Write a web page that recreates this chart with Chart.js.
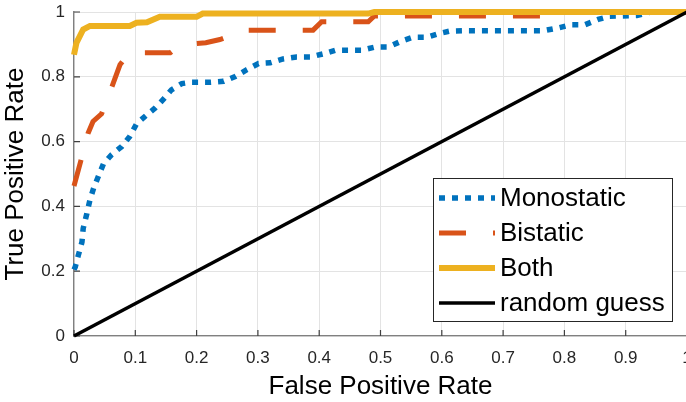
<!DOCTYPE html>
<html>
<head>
<meta charset="utf-8">
<script src="https://cdn.jsdelivr.net/npm/chart.js@4.4.1/dist/chart.umd.min.js"></script>
<style>
  html, body { margin: 0; padding: 0; background: #fff; overflow: hidden; }
  #wrap { position: absolute; left: 0; top: 0; width: 700px; height: 402px; }
</style>
</head>
<body>
<div id="wrap"><canvas id="roc" width="700" height="402"></canvas></div>
<script>
// ROC curves
const monoFpr = [0, 0.002, 0.007, 0.013, 0.015, 0.021, 0.026, 0.032, 0.040, 0.048, 0.061, 0.078, 0.091, 0.102, 0.119, 0.132, 0.146, 0.159, 0.176, 0.19, 0.222, 0.244, 0.263, 0.282, 0.301, 0.320, 0.341, 0.363, 0.385, 0.407, 0.426, 0.469, 0.491, 0.513, 0.534, 0.553, 0.575, 0.594, 0.613, 0.635, 0.765, 0.790, 0.812, 0.834, 0.855, 0.874, 0.918, 0.94, 1];
const monoTpr = [0.205, 0.213, 0.249, 0.29, 0.332, 0.378, 0.42, 0.456, 0.494, 0.531, 0.559, 0.585, 0.616, 0.655, 0.683, 0.703, 0.731, 0.76, 0.779, 0.783, 0.783, 0.786, 0.801, 0.822, 0.841, 0.843, 0.855, 0.861, 0.861, 0.871, 0.882, 0.882, 0.892, 0.892, 0.91, 0.922, 0.922, 0.933, 0.941, 0.942, 0.942, 0.951, 0.961, 0.961, 0.977, 0.987, 0.989, 1, 1];

const biFpr = [0, 0.011, 0.023, 0.031, 0.045, 0.061, 0.075, 0.09, 0.157, 0.165, 0.195, 0.215, 0.238, 0.279, 0.39, 0.404, 0.48, 0.49, 0.78, 0.79, 1];
const biTpr = [0.463, 0.54, 0.626, 0.662, 0.686, 0.765, 0.837, 0.874, 0.874, 0.886, 0.902, 0.905, 0.915, 0.944, 0.944, 0.97, 0.97, 0.988, 0.988, 1, 1];

const bothFpr = [0, 0.004, 0.015, 0.026, 0.091, 0.102, 0.119, 0.14, 0.2, 0.21, 0.48, 0.49, 1];
const bothTpr = [0.868, 0.905, 0.946, 0.957, 0.957, 0.967, 0.968, 0.985, 0.985, 0.995, 0.995, 1, 1];

const guessFpr = [0, 1];
const guessTpr = [0, 1];

const seriesNames = ["Monostatic", "Bistatic", "Both", "random guess"];
const xTicks = [0, 0.1, 0.2, 0.3, 0.4, 0.5, 0.6, 0.7, 0.8, 0.9, 1];
const yTicks = [0, 0.2, 0.4, 0.6, 0.8, 1];

const toPoints = (xs, ys) => xs.map((x, i) => ({ x: x, y: ys[i] }));

const fontFamily = "'Liberation Sans', Arial, Helvetica, sans-serif";
const axisGray = "#808080";

// MATLAB style ticks pointing into the plot
const innerTicks = {
  id: "innerTicks",
  beforeDatasetsDraw(chart) {
    const { ctx, chartArea, scales } = chart;
    ctx.save();
    ctx.strokeStyle = "#404040";
    ctx.lineWidth = 1.2;
    ctx.beginPath();
    xTicks.forEach((v) => {
      const px = scales.x.getPixelForValue(v);
      ctx.moveTo(px, chartArea.bottom);
      ctx.lineTo(px, chartArea.bottom - 6);
    });
    yTicks.forEach((v) => {
      const py = scales.y.getPixelForValue(v);
      ctx.moveTo(chartArea.left, py);
      ctx.lineTo(chartArea.left + 6, py);
    });
    ctx.stroke();
    ctx.restore();
  },
};

// legend box inside the plot, lower right
const boxLegend = {
  id: "boxLegend",
  afterDatasetsDraw(chart) {
    const { ctx } = chart;
    const left = 433, top = 178, width = 239, height = 143;
    ctx.save();
    ctx.fillStyle = "#fff";
    ctx.fillRect(left, top, width, height);
    ctx.strokeStyle = "#262626";
    ctx.lineWidth = 1;
    ctx.strokeRect(left + 0.5, top + 0.5, width, height);
    ctx.font = "26px " + fontFamily;
    ctx.textBaseline = "middle";
    ctx.fillStyle = "#000";
    chart.data.datasets.forEach((ds, i) => {
      const y = top + 20 + i * 35;
      ctx.save();
      ctx.strokeStyle = ds.borderColor;
      ctx.lineWidth = ds.borderWidth;
      ctx.lineCap = "butt";
      ctx.setLineDash(ds.borderDash || []);
      ctx.beginPath();
      ctx.moveTo(439, y);
      ctx.lineTo(495, y);
      ctx.stroke();
      ctx.restore();
      ctx.fillText(ds.label, 500, y + 1);
    });
    ctx.restore();
  },
};

new Chart(document.getElementById("roc"), {
  type: "line",
  data: {
    datasets: [
      {
        label: seriesNames[0],
        data: toPoints(monoFpr, monoTpr),
        borderColor: "#0072BD",
        borderWidth: 5.5,
        borderDash: [6, 7],
        order: 4,
      },
      {
        label: seriesNames[1],
        data: toPoints(biFpr, biTpr),
        borderColor: "#D95319",
        borderWidth: 5,
        borderDash: [27, 27],
        order: 3,
      },
      {
        label: seriesNames[2],
        data: toPoints(bothFpr, bothTpr),
        borderColor: "#EDB120",
        borderWidth: 6,
        order: 2,
      },
      {
        label: seriesNames[3],
        data: toPoints(guessFpr, guessTpr),
        borderColor: "#000000",
        borderWidth: 3.5,
        order: 1,
      },
    ],
  },
  options: {
    responsive: false,
    animation: false,
    clip: false,
    layout: { padding: { top: 12, right: 13, left: 0, bottom: 0 } },
    elements: {
      point: { radius: 0, hoverRadius: 0 },
      line: { tension: 0, fill: false, borderCapStyle: "butt", borderJoinStyle: "miter" },
    },
    plugins: {
      legend: { display: false },
      tooltip: { enabled: false },
    },
    scales: {
      x: {
        type: "linear",
        min: 0,
        max: 1,
        afterFit: (scale) => {
          scale.height = 66;
          scale.paddingLeft = 0;
          scale.paddingRight = 0;
        },
        afterBuildTicks: (scale) => { scale.ticks = xTicks.map((v) => ({ value: v })); },
        ticks: {
          padding: 12,
          color: "#262626",
          font: { family: fontFamily, size: 17 },
          maxRotation: 0,
          callback: (v) => (v === 0 || v === 1 ? String(v) : v.toFixed(1)),
        },
        grid: { color: "#e3e3e3", lineWidth: 1, drawTicks: false },
        border: { display: true, color: axisGray, width: 1.3 },
        title: {
          display: true,
          text: "False Positive Rate",
          color: "#000",
          font: { family: fontFamily, size: 26 },
          padding: 0,
        },
      },
      y: {
        type: "linear",
        min: 0,
        max: 1,
        afterFit: (scale) => {
          scale.width = 74;
          scale.paddingTop = 0;
          scale.paddingBottom = 0;
        },
        afterBuildTicks: (scale) => { scale.ticks = yTicks.map((v) => ({ value: v })); },
        ticks: {
          padding: 9,
          color: "#262626",
          font: { family: fontFamily, size: 17 },
          callback: (v) => (v === 0 || v === 1 ? String(v) : v.toFixed(1)),
        },
        grid: { color: "#e3e3e3", lineWidth: 1, drawTicks: false },
        border: { display: true, color: axisGray, width: 1.3 },
        title: {
          display: true,
          text: "True Positive Rate",
          color: "#000",
          font: { family: fontFamily, size: 26 },
          padding: 0,
        },
      },
    },
  },
  plugins: [innerTicks, boxLegend],
});
</script>
</body>
</html>
